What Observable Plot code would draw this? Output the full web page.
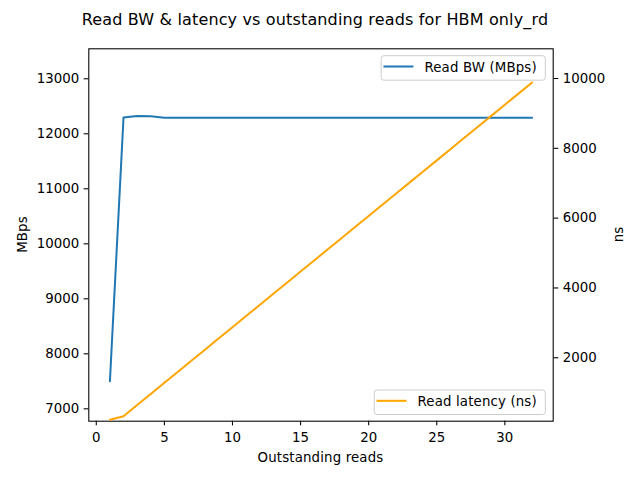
<!DOCTYPE html>
<html>
<head>
<meta charset="utf-8">
<script src="https://cdn.jsdelivr.net/npm/d3@7"></script>
<script src="https://cdn.jsdelivr.net/npm/@observablehq/plot@0.6"></script>
<style>
  body { margin: 0; background: #fff; }
  #fig { position: relative; width: 640px; height: 480px; overflow: hidden; background: #fff; }
  #fig > svg { position: absolute; left: 0; top: 0; }
</style>
</head>
<body>
<div id="fig"></div>
<script>
// ---- data ----
const title = "Read BW & latency vs outstanding reads for HBM only_rd";
const xLabel = "Outstanding reads";
const bwLabel = "MBps";
const latLabel = "ns";
const bwSeriesName = "Read BW (MBps)";
const latSeriesName = "Read latency (ns)";

const outstanding = [1,2,3,4,5,6,7,8,9,10,11,12,13,14,15,16,17,18,19,20,21,22,23,24,25,26,27,28,29,30,31,32];
const readBW = [7500,12296,12325,12318,12290,12292,12292,12292,12292,12292,12292,12292,12292,12292,12292,12292,
                12292,12292,12292,12292,12292,12292,12292,12292,12292,12292,12292,12292,12292,12292,12292,12292];
const readLatency = [223,327,645,964,1283,1601,1920,2239,2557,2876,3194,3513,3832,4150,4469,4788,
                     5106,5425,5744,6062,6381,6700,7018,7337,7655,7974,8293,8611,8930,9249,9567,9886];

const xTicks = [0,5,10,15,20,25,30];
const bwTicks = [7000,8000,9000,10000,11000,12000,13000];
const latTicks = [2000,4000,6000,8000,10000];

const xDomain = [-0.55, 33.55];
const bwDomain = [6775, 13545];
const latDomain = [183, 10851];

const blue = "#1f77b4";
const orange = "#ffa500";

// ---- layout ----
const W = 640, H = 480;
const mL = 88.3, mR = 87.3, mT = 48.3, mB = 59.3;
const font = "DejaVu Sans, sans-serif";
const fs = 13.33;
const tickSize = 4.67;
const ls = "0.15px";

const bwData = outstanding.map((x, i) => ({x, y: readBW[i]}));
const latData = outstanding.map((x, i) => ({x, y: readLatency[i]}));

const common = {
  width: W, height: H,
  marginLeft: mL, marginRight: mR, marginTop: mT, marginBottom: mB,
  style: {fontFamily: font, fontSize: fs + "px", color: "black", background: "transparent", overflow: "visible"}
};

const left = Plot.plot({
  ...common,
  x: {domain: xDomain},
  y: {domain: bwDomain},
  marks: [
    Plot.line(bwData, {x: "x", y: "y", stroke: blue, strokeWidth: 2}),
    Plot.axisX({ticks: xTicks, tickFormat: "d", tickSize, tickPadding: 7, label: null, strokeWidth: 1.07}),
    Plot.axisY({ticks: bwTicks, tickFormat: "d", tickSize, tickPadding: 5, label: null, strokeWidth: 1.07}),
    Plot.frame({stroke: "black", strokeWidth: 1.07})
  ]
});

const right = Plot.plot({
  ...common,
  x: {domain: xDomain, axis: null},
  y: {domain: latDomain, axis: null},
  marks: [
    Plot.line(latData, {x: "x", y: "y", stroke: orange, strokeWidth: 2}),
    Plot.axisY({anchor: "right", ticks: latTicks, tickFormat: "d", tickSize, tickPadding: 5, label: null, strokeWidth: 1.07})
  ]
});

const fig = document.getElementById("fig");
fig.appendChild(left);
fig.appendChild(right);

// ---- overlay: title, axis labels, legends ----
const ov = d3.create("svg").attr("width", W).attr("height", H)
  .style("font-family", font).style("overflow", "visible");
fig.appendChild(ov.node());

ov.append("text").attr("x", 315).attr("y", 24.5).attr("text-anchor", "middle")
  .attr("font-size", 16).attr("letter-spacing", ls).attr("fill", "black").text(title);
ov.append("text").attr("x", (mL + (W - mR)) / 2).attr("y", 462).attr("text-anchor", "middle")
  .attr("font-size", fs).attr("letter-spacing", ls).attr("fill", "black").text(xLabel);
ov.append("text").attr("transform", `translate(26.6,${(mT + H - mB) / 2}) rotate(-90)`).attr("text-anchor", "middle")
  .attr("font-size", fs).attr("letter-spacing", ls).attr("fill", "black").text(bwLabel);
ov.append("text").attr("transform", `translate(623,${(mT + H - mB) / 2}) rotate(-90)`).attr("text-anchor", "middle")
  .attr("font-size", fs).attr("letter-spacing", ls).attr("fill", "black").text(latLabel);

function legend(label, color, top, rightEdge) {
  const g = ov.append("g");
  const rect = g.append("rect");
  const t = g.append("text").attr("font-size", fs).attr("letter-spacing", ls).attr("fill", "black").text(label);
  const tw = t.node().getComputedTextLength();
  const h = 24.5;
  const w = 2.3 + 30 + 11 + tw + 8.5;
  const x0 = rightEdge - w;
  rect.attr("x", x0).attr("y", top).attr("width", w).attr("height", h).attr("rx", 2.8)
    .attr("fill", "white").attr("fill-opacity", 0.8).attr("stroke", "#cccccc").attr("stroke-width", 1);
  g.append("line").attr("x1", x0 + 2.3).attr("x2", x0 + 32.3).attr("y1", top + 10.8).attr("y2", top + 10.8)
    .attr("stroke", color).attr("stroke-width", 2);
  t.attr("x", x0 + 43.3).attr("y", top + 16.3);
}
legend(bwSeriesName, blue, 55.7, 545.3);
legend(latSeriesName, orange, 390, 545.3);
</script>
</body>
</html>
